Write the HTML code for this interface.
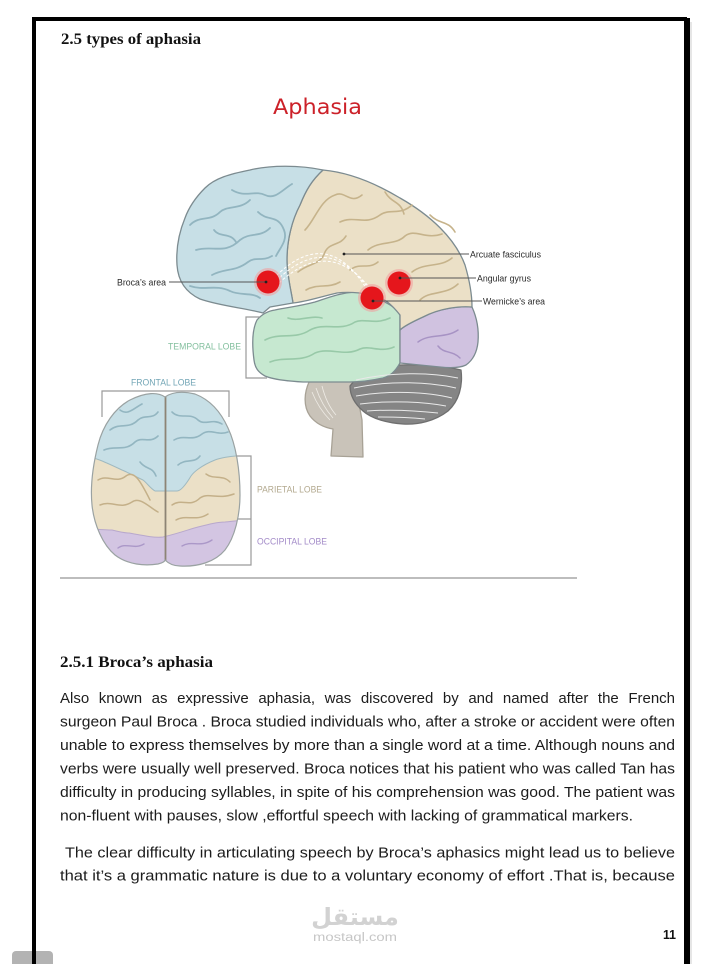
<!DOCTYPE html>
<html>
<head>
<meta charset="utf-8">
<style>
  html,body{margin:0;padding:0;background:#fff;}
  body{width:711px;height:964px;overflow:hidden;}
  svg{display:block;}
</style>
</head>
<body>
<svg width="711" height="964" viewBox="0 0 711 964" xmlns="http://www.w3.org/2000/svg">
  <rect x="0" y="0" width="711" height="964" fill="#ffffff"/>

  <!-- page borders -->
  <rect x="32" y="17" width="655" height="4" fill="#000"/>
  <rect x="32" y="17" width="4" height="947" fill="#000"/>
  <rect x="684" y="18" width="6" height="946" fill="#000"/>
  <rect x="690" y="22" width="2" height="942" fill="#e6e6e6"/>

  <!-- bottom-left grey tab -->
  <rect x="12" y="951" width="41" height="22" rx="4" fill="#b3b3b3"/>
  <rect x="32" y="945" width="4" height="19" fill="#000"/>

  <!-- heading -->
  <text x="61" y="44" font-family="Liberation Serif, serif" font-weight="bold" font-size="15.5" fill="#111" textLength="140" lengthAdjust="spacingAndGlyphs">2.5 types of aphasia</text>

  <!-- Aphasia title -->
  <text x="273" y="114" font-family="DejaVu Sans, sans-serif" font-size="21" fill="#cc2129" textLength="89" lengthAdjust="spacingAndGlyphs">Aphasia</text>

  <!-- ===== Lateral brain ===== -->
  <g stroke="#7c8b90" stroke-width="1.3" stroke-linejoin="round">
    <!-- brainstem -->
    <path d="M310,380 C304,392 303,406 310,416 C317,425 327,428 333,429 L331,456 L363,457 L362,420 C360,408 357,394 352,380 Z" fill="#c9c3b9" stroke="#a8a296"/>
    <!-- cerebellum -->
    <path d="M350,386 C360,372 380,366 400,365 C420,364 445,366 461,370 C463,386 459,401 448,411 C435,421 418,425 403,424 C388,423 372,419 363,411 C355,404 350,396 350,386 Z" fill="#858585" stroke="#6f6f6f"/>
    <!-- temporal (green) -->
    <path d="M257,320 C262,314 268,311 275,310 C290,307 300,306 315,302 C330,297 340,293 355,292 C365,292 372,295 380,300 C390,304 396,308 400,315 L400,363 C395,372 390,376 383,378 C370,381 360,382 350,382 L303,382 C285,381 272,379 265,376 C258,372 255,368 254,360 C252,345 252,330 257,320 Z" fill="#c6e8d0"/>
    <!-- occipital (purple) -->
    <path d="M400,330 C404,326 412,322 423,317 C440,308 460,306 472,307 C477,318 479,330 478,342 C477,352 473,360 466,365 C460,368 450,368 440,367 L400,363 Z" fill="#d0c2e0"/>
    <!-- parietal (tan) -->
    <path d="M323,170 C345,172 370,180 400,198 C430,215 455,238 465,265 C470,282 472,295 472,307 C460,306 440,308 423,317 C412,322 404,326 400,330 L400,315 C392,305 385,298 372,295 C360,292 345,292 337,293 C320,297 305,302 293,303 C291,290 287,275 287,260 C287,240 292,220 300,205 C306,190 312,180 323,170 Z" fill="#ebe0c7"/>
    <!-- frontal (blue) -->
    <path d="M323,170 C300,165 270,165 250,170 C230,174 215,178 205,188 C196,197 189,207 185,218 C178,235 176,250 177,265 C178,280 185,292 200,299 C220,306 245,308 263,313 L270,307 L293,303 C291,290 287,275 287,260 C287,240 292,220 300,205 C306,190 312,180 323,170 Z" fill="#c7dfe6"/>
  </g>

  <!-- cerebellum stripes -->
  <g fill="none" stroke="#e9e9e9" stroke-width="1">
    <path d="M356,380 C390,372 430,372 458,378"/>
    <path d="M354,388 C390,380 430,382 456,388"/>
    <path d="M356,396 C390,390 428,392 452,398"/>
    <path d="M360,404 C392,400 425,402 446,406"/>
    <path d="M367,411 C395,409 420,411 438,413"/>
    <path d="M378,417 C398,417 415,418 425,419"/>
  </g>
  <!-- pons stripes -->
  <g fill="none" stroke="#efece6" stroke-width="0.8">
    <path d="M312,392 C316,402 322,412 330,420"/>
    <path d="M316,388 C320,400 326,410 333,418"/>
    <path d="M322,386 C325,398 330,408 336,415"/>
  </g>

  <!-- frontal gyri -->
  <g fill="none" stroke="#92b5c0" stroke-width="1.8" stroke-linecap="round">
    <path d="M190,225 C200,215 210,222 220,212 C228,205 240,210 250,200"/>
    <path d="M196,250 C212,245 225,255 240,240 C250,232 260,238 270,228"/>
    <path d="M212,275 C225,268 235,272 248,262 C256,256 262,262 272,256"/>
    <path d="M232,190 C245,198 255,190 265,195 C275,200 282,190 292,184"/>
    <path d="M258,212 C268,222 278,214 284,230 C288,240 280,248 276,256"/>
    <path d="M190,286 C205,291 215,284 230,291 C240,296 252,292 260,298"/>
    <path d="M214,230 C220,238 230,232 236,242"/>
  </g>
  <!-- parietal gyri -->
  <g fill="none" stroke="#c6b38b" stroke-width="1.6" stroke-linecap="round">
    <path d="M305,230 C315,220 320,200 335,195 C345,190 350,205 362,195"/>
    <path d="M298,272 C310,262 320,266 325,252 C330,242 340,246 346,236"/>
    <path d="M340,222 C355,215 365,226 380,215 C390,208 400,216 412,205"/>
    <path d="M368,250 C380,240 395,246 405,236 C415,228 425,240 442,234"/>
    <path d="M412,272 C425,262 440,268 452,258"/>
    <path d="M420,300 C430,290 445,296 458,284"/>
    <path d="M306,290 C318,283 328,289 340,282"/>
    <path d="M385,192 C392,204 400,200 404,214"/>
    <path d="M430,215 C440,225 448,220 455,232"/>
    <path d="M350,270 C360,262 368,270 378,262"/>
  </g>
  <!-- temporal gyri -->
  <g fill="none" stroke="#98c9a8" stroke-width="1.6" stroke-linecap="round">
    <path d="M265,340 C280,332 295,340 310,330 C325,322 340,332 355,322 C365,318 375,325 390,318"/>
    <path d="M270,362 C285,356 300,363 315,353 C330,347 345,357 360,349 C370,345 380,353 394,347"/>
    <path d="M288,318 C298,322 310,315 322,318"/>
  </g>
  <!-- occipital gyri -->
  <g fill="none" stroke="#a793c4" stroke-width="1.5" stroke-linecap="round">
    <path d="M418,342 C430,333 445,339 458,330"/>
    <path d="M438,346 C444,354 452,350 460,358"/>
  </g>

  <!-- arcuate fasciculus dashed -->
  <g fill="none" stroke="#ffffff" stroke-width="1" stroke-dasharray="3 2">
    <path d="M273,279 Q328,222 369,293"/>
    <path d="M276,281 Q330,228 372,294"/>
    <path d="M279,283 Q332,234 375,295"/>
  </g>

  <!-- red spots -->
  <g>
    <circle cx="268" cy="282" r="14" fill="#f39a9a" opacity="0.55"/>
    <circle cx="268" cy="282" r="11.5" fill="#e5161c"/>
    <circle cx="372" cy="298" r="14" fill="#f39a9a" opacity="0.55"/>
    <circle cx="372" cy="298" r="11.5" fill="#e5161c"/>
    <circle cx="399" cy="283" r="14" fill="#f39a9a" opacity="0.55"/>
    <circle cx="399" cy="283" r="11.5" fill="#e5161c"/>
  </g>

  <!-- label lines -->
  <g stroke="#555" stroke-width="0.9">
    <line x1="169" y1="282" x2="266" y2="282"/>
    <line x1="344" y1="254" x2="469" y2="254"/>
    <line x1="400" y1="278" x2="476" y2="278"/>
    <line x1="373" y1="301" x2="482" y2="301"/>
  </g>
  <g fill="#222">
    <circle cx="266" cy="282" r="1.4"/>
    <circle cx="344" cy="254" r="1.4"/>
    <circle cx="400" cy="278" r="1.4"/>
    <circle cx="373" cy="301" r="1.4"/>
  </g>
  <g font-family="Liberation Sans, sans-serif" font-size="9" fill="#2a2a2a">
    <text x="117" y="285.5" textLength="49" lengthAdjust="spacingAndGlyphs">Broca’s area</text>
    <text x="470" y="257.5" textLength="71" lengthAdjust="spacingAndGlyphs">Arcuate fasciculus</text>
    <text x="477" y="281.5" textLength="54" lengthAdjust="spacingAndGlyphs">Angular gyrus</text>
    <text x="483" y="304.5" textLength="62" lengthAdjust="spacingAndGlyphs">Wernicke’s area</text>
  </g>

  <!-- lobe labels -->
  <g font-family="Liberation Sans, sans-serif" font-size="9.5">
    <text x="168" y="349.5" fill="#84c09f" textLength="73" lengthAdjust="spacingAndGlyphs">TEMPORAL LOBE</text>
    <text x="131" y="385.5" fill="#73a6b6" textLength="65" lengthAdjust="spacingAndGlyphs">FRONTAL LOBE</text>
    <text x="257" y="492.5" fill="#b3a98f" textLength="65" lengthAdjust="spacingAndGlyphs">PARIETAL LOBE</text>
    <text x="257" y="544.5" fill="#a38bc8" textLength="70" lengthAdjust="spacingAndGlyphs">OCCIPITAL LOBE</text>
  </g>

  <!-- brackets -->
  <g fill="none" stroke="#9a9a9a" stroke-width="1.2">
    <polyline points="260,317 246,317 246,378 267,378"/>
    <polyline points="102,417 102,391 229,391 229,417"/>
    <polyline points="227,456 251,456 251,565 205,565"/>
    <line x1="231" y1="519" x2="251" y2="519"/>
  </g>

  <!-- ===== Top view brain ===== -->
  <defs>
    <clipPath id="topclip">
      <path d="M165,397 C158,392 146,392 130,400 C115,408 103,425 98,445 C93,465 90,485 92,505 C94,525 103,545 115,555 C128,565 145,566 158,564 C163,563 165,561 165,560 C167,562 172,566 180,566 C198,567 215,562 225,550 C235,537 240,515 240,495 C240,470 236,445 228,428 C220,410 208,399 195,394 C182,391 172,392 165,397 Z"/>
    </clipPath>
  </defs>
  <g clip-path="url(#topclip)">
    <rect x="80" y="380" width="170" height="200" fill="#ebe0c7"/>
    <path d="M80,380 L250,380 L250,455 C230,456 220,458 215,460 C200,466 193,473 191,476 C185,486 180,491 177,491 L155,491 C150,488 147,483 143,480 C130,474 125,471 122,470 C105,462 95,457 80,455 Z" fill="#c7dfe6" stroke="#9fb9c0" stroke-width="1"/>
    <path d="M80,528 C95,529 105,530 112,530 C120,532 125,533 129,533 C145,536 155,538 163,537 C180,533 190,529 198,527 C210,524 218,522 225,522 C235,521 240,520 250,520 L250,580 L80,580 Z" fill="#d3c5e2" stroke="#b8a8cc" stroke-width="1"/>
    <!-- gyri -->
    <g fill="none" stroke="#93b6c1" stroke-width="1.6" stroke-linecap="round">
      <path d="M110,430 C120,422 128,430 138,420 C145,414 152,420 158,412"/>
      <path d="M104,450 C115,445 125,452 135,442 C142,436 150,444 158,436"/>
      <path d="M140,462 C146,470 152,466 156,476"/>
      <path d="M172,412 C180,420 190,412 198,420 C205,426 212,418 222,424"/>
      <path d="M174,440 C184,434 192,442 202,434 C210,428 218,436 228,432"/>
      <path d="M178,465 C186,458 194,464 200,456"/>
      <path d="M120,410 C128,416 134,408 142,404"/>
    </g>
    <g fill="none" stroke="#c4b089" stroke-width="1.5" stroke-linecap="round">
      <path d="M98,480 C108,474 116,484 126,476 C134,470 140,480 150,500"/>
      <path d="M100,505 C112,500 120,510 132,502 C140,496 150,508 158,512"/>
      <path d="M172,505 C182,498 190,508 200,498 C208,492 218,500 234,494"/>
      <path d="M176,520 C186,514 196,522 208,514"/>
      <path d="M206,474 C214,480 222,474 230,482"/>
    </g>
    <g fill="none" stroke="#ab98c8" stroke-width="1.4" stroke-linecap="round">
      <path d="M118,548 C126,542 134,550 144,544"/>
      <path d="M182,546 C192,540 200,548 212,540"/>
    </g>
    <line x1="165.5" y1="396" x2="165.5" y2="563" stroke="#8d8475" stroke-width="1.8"/>
  </g>
  <path d="M165,397 C158,392 146,392 130,400 C115,408 103,425 98,445 C93,465 90,485 92,505 C94,525 103,545 115,555 C128,565 145,566 158,564 C163,563 165,561 165,560 C167,562 172,566 180,566 C198,567 215,562 225,550 C235,537 240,515 240,495 C240,470 236,445 228,428 C220,410 208,399 195,394 C182,391 172,392 165,397 Z" fill="none" stroke="#9aa2a2" stroke-width="1.2"/>

  <!-- horizontal rule -->
  <line x1="60" y1="578" x2="577" y2="578" stroke="#bdbdbd" stroke-width="2"/>

  <!-- section heading -->
  <text x="60" y="667" font-family="Liberation Serif, serif" font-weight="bold" font-size="16" fill="#111" textLength="153" lengthAdjust="spacingAndGlyphs">2.5.1 Broca’s aphasia</text>

  <!-- paragraphs -->
  <g font-family="Liberation Sans, sans-serif" font-size="15" fill="#1c1c1c">
    <text x="60" y="703" word-spacing="5.4" textLength="615" lengthAdjust="spacing">Also known as expressive aphasia, was discovered by and named after the French</text>
    <text x="60" y="726.5" textLength="615" lengthAdjust="spacingAndGlyphs">surgeon Paul Broca . Broca studied individuals who, after a stroke or accident were often</text>
    <text x="60" y="750" textLength="615" lengthAdjust="spacingAndGlyphs">unable to express themselves by more than a single word at a time. Although nouns and</text>
    <text x="60" y="773.5" textLength="615" lengthAdjust="spacingAndGlyphs">verbs were usually well preserved. Broca notices that his patient who was called Tan has</text>
    <text x="60" y="797" textLength="615" lengthAdjust="spacingAndGlyphs">difficulty in producing syllables, in spite of his comprehension was good. The patient was</text>
    <text x="60" y="820.5" textLength="573" lengthAdjust="spacingAndGlyphs">non-fluent with pauses, slow ,effortful speech with lacking of grammatical markers.</text>
    <text x="65" y="857.5" textLength="610" lengthAdjust="spacingAndGlyphs">The clear difficulty in articulating speech by Broca’s aphasics  might lead us to believe</text>
    <text x="60" y="880.5" textLength="615" lengthAdjust="spacingAndGlyphs">that it’s a grammatic nature is due to a voluntary economy of effort .That is, because</text>
  </g>

  <!-- watermark -->
  <text x="355" y="925" text-anchor="middle" font-family="DejaVu Sans, sans-serif" font-weight="bold" font-size="24" fill="#d2d2d2">مستقل</text>
  <text x="313" y="941" font-family="Liberation Sans, sans-serif" font-size="11.5" fill="#c6c6c6" textLength="84" lengthAdjust="spacingAndGlyphs">mostaql.com</text>

  <!-- page number -->
  <text x="663" y="939" font-family="Liberation Sans, sans-serif" font-weight="bold" font-size="12.5" fill="#111" textLength="13" lengthAdjust="spacingAndGlyphs">11</text>
</svg>
</body>
</html>
